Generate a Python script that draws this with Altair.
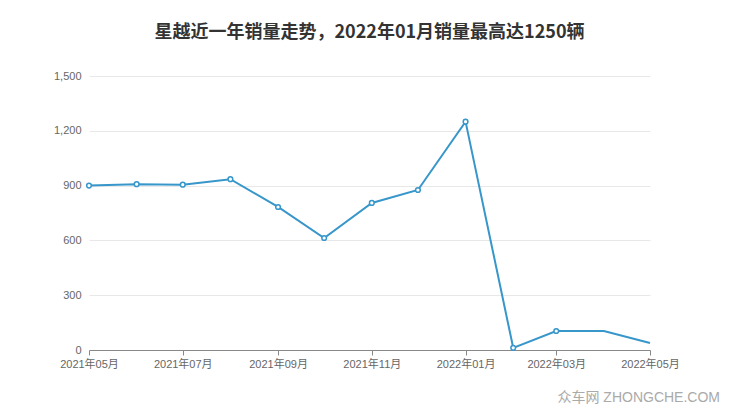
import altair as alt
import pandas as pd

months = ["2021/05/01", "2021/06/01", "2021/07/01", "2021/08/01", "2021/09/01",
          "2021/10/01", "2021/11/01", "2021/12/01", "2022/01/01", "2022/02/01",
          "2022/03/01", "2022/04/01", "2022/05/01"]
sales = [900, 908, 905, 935, 783, 613, 805, 876, 1250, 12, 104, 104, 38]
show_symbol = [1, 1, 1, 1, 1, 1, 1, 1, 1, 1, 1, 0, 0]
tick_months = [(2021, 5), (2021, 7), (2021, 9), (2021, 11), (2022, 1), (2022, 3), (2022, 5)]
y_ticks = [0, 300, 600, 900, 1200, 1500]
title_text = "星越近一年销量走势，2022年01月销量最高达1250辆"
watermark = "众车网  ZHONGCHE.COM"

df = pd.DataFrame({"month": months, "sales": sales, "sym": show_symbol})

color = "#3796ca"
font = "Liberation Sans, Noto Sans CJK SC"

x = alt.X("month:T",
          scale=alt.Scale(domain=[alt.DateTime(year=2021, month=5, date=1),
                                  alt.DateTime(year=2022, month=5, date=1)]),
          axis=alt.Axis(title=None, format="%Y年%m月", grid=False,
                        values=[alt.DateTime(year=y, month=m, date=1) for y, m in tick_months],
                        domainColor="#888", tickColor="#888", tickSize=5,
                        labelColor="#666", labelFontSize=11, labelFont=font,
                        labelPadding=3, labelFlush=False, labelOverlap=False))
y = alt.Y("sales:Q",
          scale=alt.Scale(domain=[0, 1500], nice=False),
          axis=alt.Axis(title=None, values=y_ticks, format=",.0f", grid=True,
                        gridColor="#e8e8e8", domain=False, ticks=False,
                        labelColor="#666", labelFontSize=11, labelFont=font,
                        labelPadding=8))

line = alt.Chart(df).mark_line(color=color, strokeWidth=2).encode(x=x, y=y)
pts = alt.Chart(df).transform_filter("datum.sym == 1").mark_point(
    shape="circle", filled=True, fill="white", stroke=color, strokeWidth=1.5,
    size=22, opacity=1).encode(x=x, y=y)
wm = alt.Chart(pd.DataFrame({"t": [watermark]})).mark_text(
    align="right", baseline="middle", fontSize=14, color="#aaaaaa",
    font="Liberation Sans, Noto Sans CJK SC").encode(
    text="t:N", x=alt.value(631), y=alt.value(322))

chart = alt.layer(line, pts, wm).properties(
    width=561, height=274,
    autosize=alt.AutoSizeParams(type="none"),
    padding={"left": 81, "top": 68, "right": 82, "bottom": 59},
    title=alt.TitleParams(title_text, anchor="middle", fontSize=18,
                          fontWeight="bold", color="#333",
                          font="Noto Sans CJK SC", offset=28),
).configure_view(stroke=None)

chart.save("out.html", embed_options={"renderer": "svg", "actions": False})
